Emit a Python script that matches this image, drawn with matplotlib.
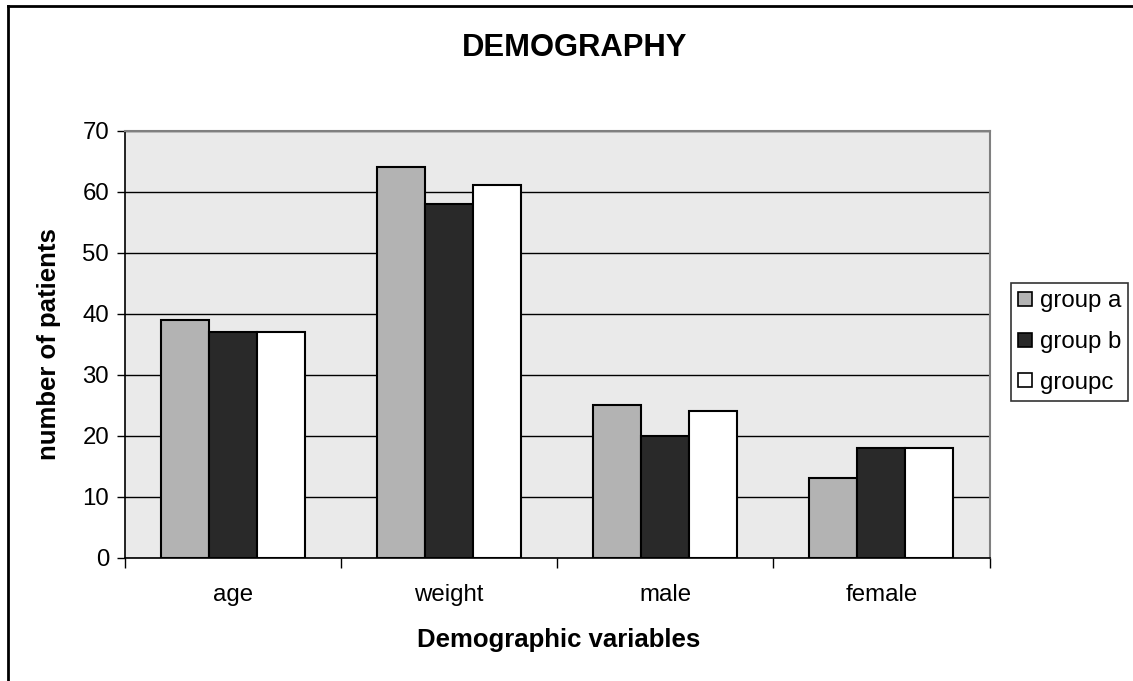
import numpy as np
import matplotlib
matplotlib.use('Agg')
import matplotlib.pyplot as plt
from matplotlib.lines import Line2D

plt.rcParams['font.family'] = ['Liberation Sans', 'DejaVu Sans']

categories = ['age', 'weight', 'male', 'female']
group_a = [39, 64, 25, 13]
group_b = [37, 58, 20, 18]
group_c = [37, 61, 24, 18]
series_names = ['group a', 'group b', 'groupc']
colors = ['#b3b3b3', '#292929', '#ffffff']

W, H = 1133, 681
fig = plt.figure(figsize=(W / 100, H / 100), dpi=100)
fig.patch.set_facecolor('white')

# plot area in pixels
left, top, right, bottom = 124.5, 130.5, 989.5, 557.5
ax = fig.add_axes([left / W, 1 - bottom / H, (right - left) / W, (bottom - top) / H])
ax.set_facecolor('#eaeaea')

x = np.arange(len(categories))
bw = 0.222
for i, (vals, c, name) in enumerate(zip([group_a, group_b, group_c], colors, series_names)):
    ax.bar(x + (i - 1) * bw, vals, bw, color=c, edgecolor='black', linewidth=1.5,
           label=name, zorder=3)

ax.set_xlim(-0.5, len(categories) - 0.5)
ax.set_ylim(0, 70)
ax.set_yticks(range(0, 71, 10))
ax.yaxis.grid(True, color='black', linewidth=1.0, zorder=1)
ax.set_axisbelow(True)

ax.set_xticks(np.arange(len(categories) + 1) - 0.5)
ax.set_xticklabels([])
ax.set_xticks(x, minor=True)
ax.set_xticklabels(categories, minor=True, fontsize=17.3)
ax.tick_params(axis='x', which='major', direction='out', length=7, width=1, color='black')
ax.tick_params(axis='x', which='minor', length=0, pad=19)
ax.tick_params(axis='y', direction='out', length=6, width=1, labelsize=17.3, pad=5)

for s in ['left', 'bottom']:
    ax.spines[s].set_color('black')
    ax.spines[s].set_linewidth(1.2)
for s in ['top', 'right']:
    ax.spines[s].set_color('#808080')
    ax.spines[s].set_linewidth(1.5)

fig.text(575 / W, 1 - 48 / H, 'DEMOGRAPHY', ha='center', va='center',
         fontsize=22.3, fontweight='bold')
fig.text(559 / W, 1 - 640 / H, 'Demographic variables', ha='center', va='center',
         fontsize=18.5, fontweight='bold')
fig.text(49 / W, 1 - 344 / H, 'number of patients', ha='center', va='center',
         rotation=90, fontsize=18.5, fontweight='bold')

handles = [Line2D([], [], marker='s', linestyle='none', markersize=10,
                  markerfacecolor=c, markeredgecolor='black', markeredgewidth=1.2)
           for c in colors]
leg = fig.legend(handles, series_names, loc='upper left',
                 bbox_to_anchor=(1011 / W, 1 - 283 / H), fontsize=17.3,
                 frameon=True, fancybox=False, handlelength=0.6, handletextpad=0.3,
                 borderpad=0.3, labelspacing=0.78, borderaxespad=0)
leg.get_frame().set_edgecolor('black')
leg.get_frame().set_linewidth(1.2)

# outer chart border (left and top edges visible)
fig.add_artist(Line2D([8 / W, 8 / W], [0, 1 - 6 / H], transform=fig.transFigure,
                      color='black', linewidth=2))
fig.add_artist(Line2D([8 / W, 1], [1 - 6 / H, 1 - 6 / H], transform=fig.transFigure,
                      color='black', linewidth=2))

fig.savefig('out.png', dpi=100)
